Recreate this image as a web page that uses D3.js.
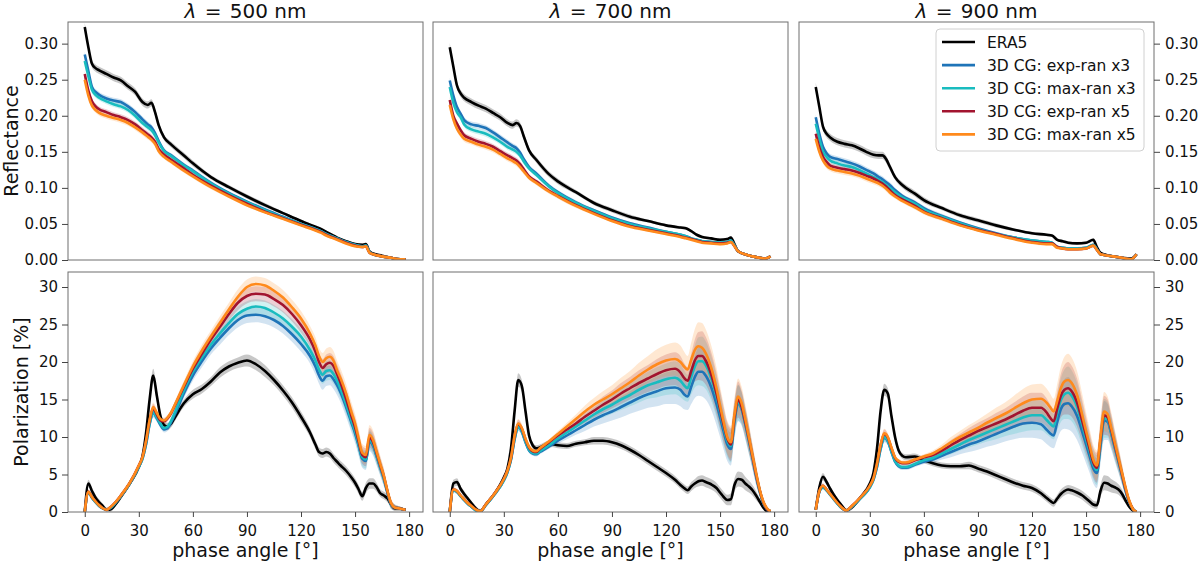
<!DOCTYPE html>
<html>
<head>
<meta charset="utf-8">
<script src="https://cdn.jsdelivr.net/npm/d3@7"></script>
<style>
body { margin: 0; background: #fff; }
text { font-family: "DejaVu Sans", sans-serif; fill: #111; }
</style>
</head>
<body>
<div id="chart"></div>
<script>
// phase angle grids (degrees)
var angleRefl = [0, 2, 4, 6, 8, 12, 16, 20,
    24, 28, 32, 35, 37, 39, 41, 44,
    48, 55, 60, 70, 80, 90, 100, 110,
    120, 128, 131, 134, 137, 140, 145, 150,
    154, 156, 158, 160, 165, 170, 175, 178];

var anglePol = [0, 2, 4, 6, 8, 10, 12, 14,
    17, 20, 25, 30, 32, 34, 36, 38,
    40, 42, 44, 46, 48, 50, 55, 60,
    65, 70, 75, 80, 85, 90, 95, 100,
    105, 110, 115, 120, 125, 128, 130, 132,
    134, 136, 138, 140, 142, 145, 148, 150,
    152, 154, 156, 158, 160, 162, 164, 166,
    168, 170, 172, 174, 176, 178];

var seriesNames = ["ERA5", "3D CG: exp-ran x3", "3D CG: max-ran x3", "3D CG: exp-ran x5", "3D CG: max-ran x5"];
var seriesColors = ["#000000", "#1f74b8", "#19bcbf", "#a2142f", "#ff8a1c"];
var wavelengths = [500, 700, 900];
var xTicks = [0, 30, 60, 90, 120, 150, 180];
var reflTicks = [0, 0.05, 0.10, 0.15, 0.20, 0.25, 0.30];
var polTicks = [0, 5, 10, 15, 20, 25, 30];

// ---- reflectance, 500 nm
var refl500Era5 = [0.323, 0.295, 0.272, 0.266, 0.263, 0.258, 0.253, 0.249,
    0.241, 0.233, 0.219, 0.215, 0.218, 0.205, 0.187, 0.170,
    0.160, 0.145, 0.134, 0.115, 0.101, 0.088, 0.076, 0.065,
    0.054, 0.046, 0.043, 0.039, 0.035, 0.031, 0.026, 0.022,
    0.021, 0.022, 0.012, 0.009, 0.006, 0.003, 0.001, 0.001];
var refl500Exp3 = [0.285, 0.262, 0.240, 0.233, 0.229, 0.224, 0.221, 0.219,
    0.213, 0.205, 0.195, 0.188, 0.184, 0.176, 0.165, 0.152,
    0.145, 0.132, 0.124, 0.107, 0.093, 0.081, 0.070, 0.060,
    0.050, 0.043, 0.040, 0.036, 0.033, 0.030, 0.025, 0.021,
    0.019, 0.020, 0.011, 0.008, 0.005, 0.003, 0.001, 0.001];
var refl500Max3 = [0.276, 0.255, 0.236, 0.229, 0.225, 0.220, 0.216, 0.213,
    0.208, 0.200, 0.190, 0.184, 0.180, 0.173, 0.163, 0.151,
    0.144, 0.131, 0.123, 0.106, 0.092, 0.080, 0.069, 0.059,
    0.050, 0.043, 0.040, 0.036, 0.033, 0.030, 0.025, 0.021,
    0.019, 0.020, 0.011, 0.008, 0.005, 0.003, 0.001, 0.001];
var refl500Exp5 = [0.258, 0.235, 0.220, 0.213, 0.209, 0.205, 0.201, 0.198,
    0.194, 0.188, 0.180, 0.174, 0.170, 0.164, 0.154, 0.146,
    0.139, 0.127, 0.118, 0.103, 0.090, 0.078, 0.067, 0.058,
    0.049, 0.042, 0.039, 0.035, 0.032, 0.029, 0.024, 0.020,
    0.018, 0.019, 0.010, 0.008, 0.005, 0.003, 0.001, 0.001];
var refl500Max5 = [0.250, 0.228, 0.214, 0.208, 0.204, 0.200, 0.197, 0.194,
    0.190, 0.184, 0.177, 0.171, 0.167, 0.161, 0.151, 0.143,
    0.136, 0.124, 0.116, 0.101, 0.088, 0.076, 0.066, 0.057,
    0.048, 0.041, 0.038, 0.034, 0.031, 0.028, 0.023, 0.019,
    0.018, 0.019, 0.010, 0.008, 0.005, 0.003, 0.001, 0.001];

// ---- reflectance, 700 nm
var refl700Era5 = [0.295, 0.268, 0.242, 0.231, 0.225, 0.219, 0.214, 0.210,
    0.204, 0.198, 0.190, 0.187, 0.190, 0.186, 0.172, 0.152,
    0.139, 0.119, 0.109, 0.094, 0.079, 0.069, 0.060, 0.054,
    0.048, 0.045, 0.044, 0.040, 0.035, 0.032, 0.030, 0.028,
    0.029, 0.031, 0.022, 0.012, 0.007, 0.004, 0.002, 0.005];
var refl700Exp3 = [0.249, 0.228, 0.212, 0.203, 0.194, 0.188, 0.186, 0.183,
    0.177, 0.170, 0.163, 0.158, 0.155, 0.149, 0.140, 0.129,
    0.120, 0.103, 0.094, 0.080, 0.069, 0.059, 0.051, 0.045,
    0.039, 0.035, 0.033, 0.030, 0.028, 0.026, 0.025, 0.024,
    0.025, 0.027, 0.020, 0.012, 0.007, 0.004, 0.002, 0.005];
var refl700Max3 = [0.240, 0.218, 0.205, 0.198, 0.188, 0.181, 0.178, 0.175,
    0.170, 0.164, 0.157, 0.153, 0.150, 0.145, 0.137, 0.127,
    0.118, 0.102, 0.093, 0.079, 0.068, 0.058, 0.050, 0.044,
    0.039, 0.035, 0.033, 0.030, 0.028, 0.026, 0.025, 0.024,
    0.025, 0.027, 0.020, 0.012, 0.007, 0.004, 0.002, 0.005];
var refl700Exp5 = [0.222, 0.200, 0.189, 0.180, 0.173, 0.168, 0.164, 0.161,
    0.157, 0.151, 0.145, 0.141, 0.138, 0.133, 0.126, 0.116,
    0.109, 0.096, 0.089, 0.076, 0.065, 0.055, 0.047, 0.042,
    0.037, 0.033, 0.031, 0.029, 0.027, 0.025, 0.024, 0.023,
    0.024, 0.025, 0.019, 0.012, 0.007, 0.004, 0.002, 0.005];
var refl700Max5 = [0.215, 0.195, 0.182, 0.174, 0.168, 0.164, 0.160, 0.157,
    0.153, 0.147, 0.141, 0.137, 0.134, 0.129, 0.123, 0.114,
    0.107, 0.095, 0.088, 0.075, 0.064, 0.054, 0.046, 0.041,
    0.036, 0.032, 0.030, 0.028, 0.026, 0.024, 0.023, 0.022,
    0.023, 0.025, 0.019, 0.012, 0.007, 0.004, 0.002, 0.005];

// ---- reflectance, 900 nm
var refl900Era5 = [0.240, 0.212, 0.185, 0.175, 0.170, 0.164, 0.161, 0.159,
    0.155, 0.150, 0.146, 0.145, 0.145, 0.140, 0.130, 0.115,
    0.104, 0.092, 0.083, 0.072, 0.062, 0.055, 0.048, 0.042,
    0.037, 0.035, 0.034, 0.028, 0.026, 0.024, 0.023, 0.024,
    0.028, 0.018, 0.010, 0.008, 0.005, 0.003, 0.002, 0.008];
var refl900Exp3 = [0.198, 0.175, 0.157, 0.148, 0.143, 0.140, 0.137, 0.134,
    0.130, 0.125, 0.120, 0.115, 0.112, 0.108, 0.104, 0.097,
    0.089, 0.080, 0.072, 0.061, 0.052, 0.044, 0.037, 0.031,
    0.027, 0.025, 0.024, 0.018, 0.017, 0.016, 0.016, 0.017,
    0.021, 0.015, 0.008, 0.007, 0.005, 0.003, 0.001, 0.008];
var refl900Max3 = [0.189, 0.168, 0.150, 0.143, 0.138, 0.134, 0.131, 0.129,
    0.125, 0.120, 0.115, 0.111, 0.108, 0.104, 0.100, 0.094,
    0.087, 0.078, 0.070, 0.060, 0.051, 0.043, 0.036, 0.031,
    0.027, 0.025, 0.024, 0.018, 0.017, 0.016, 0.016, 0.017,
    0.021, 0.015, 0.008, 0.007, 0.005, 0.003, 0.001, 0.008];
var refl900Exp5 = [0.175, 0.156, 0.143, 0.136, 0.131, 0.128, 0.126, 0.124,
    0.121, 0.117, 0.113, 0.109, 0.106, 0.102, 0.097, 0.090,
    0.084, 0.075, 0.067, 0.058, 0.049, 0.042, 0.036, 0.030,
    0.025, 0.023, 0.023, 0.018, 0.016, 0.015, 0.015, 0.016,
    0.020, 0.014, 0.008, 0.007, 0.005, 0.003, 0.001, 0.008];
var refl900Max5 = [0.168, 0.150, 0.138, 0.131, 0.127, 0.124, 0.122, 0.120,
    0.117, 0.113, 0.109, 0.106, 0.103, 0.099, 0.094, 0.088,
    0.082, 0.073, 0.066, 0.057, 0.048, 0.041, 0.035, 0.029,
    0.024, 0.022, 0.022, 0.017, 0.016, 0.015, 0.015, 0.016,
    0.020, 0.014, 0.008, 0.007, 0.005, 0.003, 0.001, 0.008];

// reflectance spread (half width of shaded band)
var reflSpreadEra5 = [0.006, 0.005, 0.005, 0.005, 0.005, 0.005, 0.005, 0.005,
    0.005, 0.005, 0.005, 0.005, 0.005, 0.005, 0.005, 0.004,
    0.004, 0.004, 0.004, 0.003, 0.003, 0.003, 0.003, 0.002,
    0.002, 0.002, 0.002, 0.002, 0.002, 0.002, 0.002, 0.002,
    0.002, 0.002, 0.002, 0.001, 0.001, 0.001, 0.001, 0.001];
var reflSpreadCG = [0.004, 0.004, 0.004, 0.004, 0.004, 0.004, 0.004, 0.004,
    0.004, 0.004, 0.004, 0.004, 0.004, 0.004, 0.004, 0.003,
    0.003, 0.003, 0.003, 0.003, 0.002, 0.002, 0.002, 0.002,
    0.002, 0.002, 0.002, 0.002, 0.002, 0.002, 0.002, 0.002,
    0.002, 0.002, 0.001, 0.001, 0.001, 0.001, 0.001, 0.001];

// ---- polarization [%], 500 nm
var pol500Era5 = [0.0, 3.8, 2.8, 1.9, 1.3, 0.8, 0.3, 0.3,
    1.0, 2.0, 3.8, 6.0, 7.4, 10.5, 15.0, 18.2,
    15.5, 12.8, 11.6, 11.4, 11.8, 12.6, 14.5, 15.7,
    16.4, 17.4, 18.6, 19.4, 19.9, 20.2, 19.7, 18.8,
    17.6, 16.2, 14.6, 12.7, 10.6, 9.0, 8.0, 7.8,
    8.0, 7.8, 7.2, 6.7, 6.2, 5.5, 4.6, 3.9,
    3.0, 2.1, 3.2, 3.8, 3.8, 3.3, 2.5, 2.2,
    1.8, 1.0, 0.5, 0.5, 0.4, 0.3];
var pol500Exp3 = [0.0, 2.6, 1.9, 1.3, 0.8, 0.5, 0.3, 0.5,
    1.2, 2.1, 3.8, 6.0, 7.1, 9.0, 11.7, 13.2,
    12.5, 11.6, 11.0, 11.2, 12.0, 13.0, 15.8, 18.2,
    20.1, 21.8, 23.2, 24.5, 25.6, 26.2, 26.3, 26.1,
    25.6, 24.8, 23.7, 22.4, 20.8, 19.4, 18.2, 17.5,
    18.1, 18.2, 17.7, 16.9, 15.9, 14.0, 11.9, 10.5,
    8.8, 7.1, 6.8, 9.4, 8.8, 7.4, 5.9, 4.4,
    2.6, 1.0, 0.6, 0.5, 0.4, 0.3];
var pol500Max3 = [0.0, 2.6, 1.9, 1.3, 0.8, 0.5, 0.3, 0.5,
    1.2, 2.1, 3.8, 6.0, 7.1, 9.1, 11.8, 13.3,
    12.6, 11.8, 11.2, 11.4, 12.2, 13.3, 16.2, 18.7,
    20.6, 22.3, 23.8, 25.2, 26.4, 27.1, 27.4, 27.2,
    26.6, 25.8, 24.7, 23.4, 21.6, 20.2, 19.0, 18.3,
    18.8, 18.9, 18.4, 17.5, 16.4, 14.4, 12.2, 10.8,
    9.0, 7.3, 7.0, 9.6, 9.0, 7.5, 6.0, 4.5,
    2.6, 1.0, 0.6, 0.5, 0.4, 0.3];
var pol500Exp5 = [0.0, 2.7, 2.0, 1.4, 0.9, 0.5, 0.3, 0.6,
    1.3, 2.2, 3.9, 6.2, 7.3, 9.4, 12.2, 13.8,
    13.0, 12.2, 12.1, 12.5, 13.2, 14.2, 16.7, 19.1,
    21.1, 23.0, 24.7, 26.4, 27.9, 28.8, 29.1, 29.0,
    28.4, 27.6, 26.4, 24.9, 23.0, 21.4, 20.0, 19.2,
    19.7, 19.9, 19.5, 18.4, 17.2, 15.1, 12.8, 11.3,
    9.4, 7.6, 7.3, 9.9, 9.3, 7.8, 6.2, 4.7,
    2.7, 1.1, 0.6, 0.5, 0.4, 0.3];
var pol500Max5 = [0.0, 2.7, 2.0, 1.4, 0.9, 0.5, 0.3, 0.6,
    1.3, 2.2, 3.9, 6.2, 7.3, 9.5, 12.3, 14.0,
    13.2, 12.4, 12.2, 12.6, 13.3, 14.3, 16.9, 19.4,
    21.5, 23.4, 25.2, 27.0, 28.7, 30.0, 30.4, 30.2,
    29.5, 28.6, 27.3, 25.8, 23.8, 22.2, 20.8, 20.0,
    20.5, 20.7, 20.2, 18.9, 17.8, 15.8, 13.3, 11.8,
    9.8, 7.9, 7.6, 10.3, 9.6, 8.0, 6.4, 4.8,
    2.8, 1.2, 0.6, 0.5, 0.4, 0.3];

// ---- polarization [%], 700 nm
var pol700Era5 = [0.0, 3.8, 4.0, 3.1, 2.4, 1.8, 1.2, 0.6,
    0.1, 1.0, 2.5, 4.6, 5.8, 8.5, 13.5, 17.6,
    16.8, 13.5, 10.2, 8.9, 8.5, 8.6, 9.1, 8.9,
    8.8, 9.1, 9.3, 9.5, 9.5, 9.3, 8.9, 8.3,
    7.6, 6.8, 6.0, 5.2, 4.3, 3.6, 3.2, 2.9,
    3.4, 3.8, 4.1, 4.2, 4.0, 3.7, 3.2, 2.6,
    2.0, 1.6, 1.7, 3.6, 4.4, 4.3, 3.8, 3.4,
    2.9, 2.2, 1.4, 0.6, 0.1, 0.0];
var pol700Exp3 = [0.0, 2.9, 2.7, 2.1, 1.6, 1.1, 0.7, 0.3,
    0.1, 0.9, 2.4, 4.2, 5.3, 7.0, 9.7, 11.4,
    10.7, 9.3, 8.2, 7.8, 7.7, 8.0, 8.7, 9.5,
    10.2, 10.9, 11.6, 12.3, 12.9, 13.4, 14.0, 14.6,
    15.2, 15.7, 16.1, 16.5, 16.6, 16.3, 15.7, 15.4,
    16.7, 18.0, 18.7, 18.7, 18.2, 16.7, 14.4, 12.6,
    10.7, 9.0, 8.4, 12.1, 14.5, 13.7, 11.7, 9.5,
    7.2, 4.8, 2.8, 1.2, 0.4, 0.1];
var pol700Max3 = [0.0, 2.9, 2.7, 2.1, 1.6, 1.1, 0.7, 0.3,
    0.1, 0.9, 2.4, 4.2, 5.3, 7.0, 9.8, 11.4,
    10.8, 9.4, 8.3, 7.9, 7.8, 8.1, 8.9, 9.8,
    10.6, 11.4, 12.2, 13.0, 13.7, 14.3, 15.0, 15.6,
    16.3, 16.9, 17.3, 17.7, 17.9, 17.5, 16.9, 16.5,
    18.0, 19.4, 20.1, 20.1, 19.6, 17.9, 15.4, 13.4,
    11.3, 9.5, 8.8, 12.3, 14.6, 13.8, 11.8, 9.6,
    7.3, 4.9, 2.8, 1.2, 0.4, 0.1];
var pol700Exp5 = [0.0, 3.0, 2.8, 2.2, 1.7, 1.2, 0.8, 0.4,
    0.1, 1.0, 2.5, 4.4, 5.5, 7.2, 10.1, 11.7,
    11.1, 9.7, 8.6, 8.1, 8.0, 8.4, 9.3, 10.2,
    11.0, 11.8, 12.7, 13.5, 14.3, 15.0, 15.8, 16.5,
    17.2, 17.8, 18.4, 18.9, 19.1, 18.6, 17.9, 17.5,
    18.8, 20.2, 20.8, 20.8, 20.2, 18.4, 15.8, 13.7,
    11.6, 9.8, 9.0, 12.6, 15.0, 14.0, 12.0, 9.8,
    7.4, 5.0, 2.9, 1.3, 0.4, 0.1];
var pol700Max5 = [0.0, 3.0, 2.8, 2.2, 1.7, 1.2, 0.8, 0.4,
    0.1, 1.0, 2.5, 4.4, 5.5, 7.3, 10.2, 11.8,
    11.2, 9.8, 8.7, 8.2, 8.1, 8.5, 9.4, 10.4,
    11.4, 12.4, 13.4, 14.3, 15.0, 15.7, 16.5, 17.3,
    18.2, 19.0, 19.7, 20.2, 20.4, 20.0, 19.4, 19.0,
    20.3, 21.6, 22.1, 21.9, 21.2, 19.3, 16.5, 14.2,
    12.0, 10.0, 9.3, 13.0, 15.4, 14.5, 12.4, 10.0,
    7.6, 5.2, 3.0, 1.4, 0.5, 0.1];

// ---- polarization [%], 900 nm
var pol900Era5 = [0.3, 3.3, 4.7, 4.0, 3.1, 2.3, 1.6, 1.0,
    0.2, 0.6, 2.0, 3.8, 5.2, 8.5, 13.5, 16.3,
    15.8, 12.8, 10.0, 8.2, 7.5, 7.3, 7.4, 6.9,
    6.5, 6.2, 6.1, 6.1, 6.2, 5.8, 5.4, 4.9,
    4.4, 3.9, 3.5, 3.2, 2.5, 1.9, 1.5, 1.2,
    1.8, 2.4, 2.8, 3.0, 2.9, 2.6, 2.2, 1.8,
    1.4, 1.0, 0.9, 2.8, 3.9, 3.8, 3.5, 3.3,
    3.0, 2.4, 1.5, 0.7, 0.2, 0.0];
var pol900Exp3 = [0.3, 2.7, 3.3, 2.9, 2.3, 1.7, 1.1, 0.6,
    0.2, 0.7, 1.9, 3.3, 4.3, 6.0, 8.4, 9.9,
    9.4, 8.0, 6.7, 6.1, 5.9, 5.9, 6.3, 6.7,
    7.0, 7.5, 8.0, 8.5, 9.0, 9.4, 9.9, 10.4,
    10.9, 11.4, 11.8, 11.9, 11.7, 11.0, 10.5, 10.2,
    12.0, 13.7, 14.4, 14.5, 14.1, 12.8, 10.6, 9.0,
    7.4, 5.8, 5.2, 8.8, 12.2, 12.0, 10.4, 8.5,
    6.7, 4.8, 2.8, 1.3, 0.4, 0.0];
var pol900Max3 = [0.3, 2.7, 3.3, 2.9, 2.3, 1.7, 1.1, 0.6,
    0.2, 0.7, 1.9, 3.3, 4.3, 6.1, 8.5, 10.0,
    9.5, 8.1, 6.8, 6.2, 6.0, 6.0, 6.4, 6.9,
    7.2, 7.8, 8.4, 9.0, 9.6, 10.1, 10.6, 11.1,
    11.6, 12.1, 12.6, 12.9, 12.9, 12.3, 11.8, 11.4,
    13.2, 14.9, 15.7, 15.9, 15.5, 14.0, 11.5, 9.7,
    8.0, 6.3, 5.6, 9.2, 12.5, 12.3, 10.6, 8.7,
    6.8, 4.9, 2.9, 1.3, 0.4, 0.0];
var pol900Exp5 = [0.3, 2.8, 3.5, 3.0, 2.4, 1.8, 1.2, 0.7,
    0.2, 0.8, 2.0, 3.5, 4.5, 6.4, 8.9, 10.4,
    9.9, 8.5, 7.2, 6.7, 6.5, 6.5, 6.9, 7.3,
    7.6, 8.2, 8.9, 9.6, 10.2, 10.8, 11.3, 11.8,
    12.3, 12.9, 13.5, 13.9, 13.9, 13.3, 12.6, 12.1,
    13.8, 15.5, 16.3, 16.5, 16.1, 14.6, 12.0, 10.2,
    8.4, 6.6, 5.9, 9.6, 12.9, 12.6, 10.9, 8.9,
    7.0, 5.0, 3.0, 1.4, 0.4, 0.0];
var pol900Max5 = [0.3, 2.8, 3.5, 3.0, 2.4, 1.8, 1.2, 0.7,
    0.2, 0.8, 2.0, 3.5, 4.5, 6.5, 9.0, 10.5,
    10.0, 8.6, 7.3, 6.8, 6.6, 6.6, 7.0, 7.4,
    7.8, 8.5, 9.3, 10.0, 10.6, 11.2, 11.9, 12.5,
    13.1, 13.8, 14.5, 15.0, 15.1, 14.6, 14.0, 13.4,
    14.8, 16.5, 17.4, 17.6, 17.2, 15.6, 12.8, 10.8,
    8.9, 7.0, 6.2, 10.0, 13.4, 13.0, 11.2, 9.2,
    7.2, 5.2, 3.2, 1.5, 0.4, 0.0];

// polarization spread (half width of shaded band)
var pol500SpreadEra5 = [0.2, 0.5, 0.5, 0.4, 0.4, 0.3, 0.3, 0.3,
    0.3, 0.3, 0.3, 0.4, 0.4, 0.6, 0.8, 0.9,
    0.8, 0.6, 0.5, 0.5, 0.5, 0.5, 0.5, 0.6,
    0.6, 0.6, 0.7, 0.7, 0.7, 0.8, 0.8, 0.8,
    0.7, 0.7, 0.7, 0.7, 0.6, 0.6, 0.6, 0.6,
    0.6, 0.6, 0.6, 0.6, 0.6, 0.6, 0.6, 0.6,
    0.6, 0.6, 0.7, 0.7, 0.7, 0.6, 0.5, 0.5,
    0.5, 0.4, 0.3, 0.3, 0.2, 0.2];
var pol500SpreadCG = [0.1, 0.3, 0.3, 0.2, 0.2, 0.2, 0.2, 0.2,
    0.2, 0.2, 0.3, 0.3, 0.3, 0.4, 0.5, 0.6,
    0.5, 0.4, 0.4, 0.4, 0.4, 0.5, 0.6, 0.7,
    0.8, 0.8, 0.9, 0.9, 1.0, 1.0, 1.0, 1.0,
    1.0, 1.0, 1.0, 1.0, 1.0, 1.1, 1.1, 1.2,
    1.3, 1.3, 1.3, 1.3, 1.3, 1.3, 1.3, 1.3,
    1.3, 1.2, 1.2, 1.3, 1.3, 1.2, 1.1, 1.0,
    0.8, 0.6, 0.4, 0.3, 0.2, 0.2];
var pol700SpreadEra5 = [0.2, 0.5, 0.5, 0.4, 0.4, 0.3, 0.3, 0.3,
    0.3, 0.3, 0.3, 0.4, 0.4, 0.6, 0.8, 0.9,
    0.8, 0.6, 0.5, 0.4, 0.4, 0.4, 0.4, 0.4,
    0.4, 0.4, 0.4, 0.5, 0.5, 0.5, 0.5, 0.5,
    0.5, 0.5, 0.5, 0.5, 0.5, 0.5, 0.5, 0.5,
    0.6, 0.6, 0.7, 0.7, 0.7, 0.7, 0.7, 0.7,
    0.7, 0.7, 0.8, 0.9, 1.0, 1.0, 0.9, 0.8,
    0.7, 0.6, 0.4, 0.3, 0.2, 0.1];
var pol700SpreadCG = [0.1, 0.3, 0.3, 0.2, 0.2, 0.2, 0.2, 0.2,
    0.2, 0.2, 0.3, 0.3, 0.3, 0.4, 0.5, 0.6,
    0.5, 0.4, 0.3, 0.3, 0.3, 0.3, 0.3, 0.4,
    0.5, 0.6, 0.8, 0.9, 1.1, 1.2, 1.4, 1.5,
    1.7, 1.8, 2.0, 2.1, 2.2, 2.2, 2.0, 1.8,
    2.3, 2.8, 3.2, 3.3, 3.2, 3.0, 2.8, 2.6,
    2.4, 2.2, 2.2, 2.3, 2.4, 2.2, 2.0, 1.8,
    1.5, 1.2, 0.8, 0.5, 0.3, 0.1];
var pol900SpreadEra5 = [0.2, 0.5, 0.5, 0.4, 0.4, 0.3, 0.3, 0.3,
    0.3, 0.3, 0.3, 0.4, 0.4, 0.6, 0.7, 0.8,
    0.7, 0.6, 0.5, 0.4, 0.4, 0.4, 0.4, 0.4,
    0.4, 0.4, 0.4, 0.4, 0.5, 0.5, 0.5, 0.5,
    0.5, 0.5, 0.5, 0.5, 0.5, 0.5, 0.5, 0.5,
    0.5, 0.6, 0.6, 0.6, 0.6, 0.6, 0.6, 0.6,
    0.6, 0.5, 0.5, 0.8, 1.0, 1.0, 0.9, 0.8,
    0.7, 0.6, 0.4, 0.3, 0.2, 0.1];
var pol900SpreadCG = [0.1, 0.3, 0.3, 0.2, 0.2, 0.2, 0.2, 0.2,
    0.2, 0.2, 0.3, 0.3, 0.3, 0.4, 0.5, 0.6,
    0.5, 0.4, 0.3, 0.3, 0.3, 0.3, 0.3, 0.3,
    0.4, 0.5, 0.7, 0.8, 1.0, 1.1, 1.2, 1.4,
    1.5, 1.7, 1.9, 2.0, 2.0, 1.9, 1.8, 1.7,
    2.3, 2.9, 3.3, 3.5, 3.4, 3.2, 2.8, 2.5,
    2.2, 2.0, 2.0, 2.4, 2.6, 2.4, 2.1, 1.8,
    1.5, 1.2, 0.8, 0.5, 0.3, 0.1];

var reflData = [
    [refl500Era5, refl500Exp3, refl500Max3, refl500Exp5, refl500Max5],
    [refl700Era5, refl700Exp3, refl700Max3, refl700Exp5, refl700Max5],
    [refl900Era5, refl900Exp3, refl900Max3, refl900Exp5, refl900Max5]];
var polData = [
    [pol500Era5, pol500Exp3, pol500Max3, pol500Exp5, pol500Max5],
    [pol700Era5, pol700Exp3, pol700Max3, pol700Exp5, pol700Max5],
    [pol900Era5, pol900Exp3, pol900Max3, pol900Exp5, pol900Max5]];
var polSpreads = [
    [pol500SpreadEra5, pol500SpreadCG],
    [pol700SpreadEra5, pol700SpreadCG],
    [pol900SpreadEra5, pol900SpreadCG]];

// layout
var colX = [68, 433, 799];
var panelW = 355;
var rowY = [22, 272];
var rowH = [238, 240];

var svg = d3.select("#chart").append("svg")
    .attr("width", 1200)
    .attr("height", 562);

function style_axis(ax)
{
    ax.select(".domain").remove();
    ax.selectAll(".tick line").attr("stroke", "#444").attr("stroke-width", 1);
    ax.selectAll(".tick text")
        .style("font-family", "'DejaVu Sans', sans-serif")
        .style("font-size", "15px")
        .attr("fill", "#111");
}

function draw_panel(col, row)
{
    var h = rowH[row];
    var angles = row == 0 ? angleRefl : anglePol;
    var series = row == 0 ? reflData[col] : polData[col];
    var spreads = row == 0 ? [reflSpreadEra5, reflSpreadCG] : polSpreads[col];

    var xScale = d3.scaleLinear()
        .domain([-9.3, 187.7])
        .range([0, panelW]);

    var yScale = d3.scaleLinear()
        .domain(row == 0 ? [0, 0.33] : [0, 32])
        .range([h, 0]);

    var g = svg.append("g")
        .attr("transform", "translate(" + colX[col] + "," + rowY[row] + ")");

    var clipId = "clip" + col + "_" + row;
    g.append("clipPath").attr("id", clipId)
        .append("rect").attr("width", panelW).attr("height", h);

    var plot = g.append("g").attr("clip-path", "url(#" + clipId + ")");

    // shaded bands first
    series.forEach(function(vals, k) {
        var sp = k == 0 ? spreads[0] : spreads[1];
        var area = d3.area()
            .x(function(d, i) { return xScale(angles[i]); })
            .y0(function(d, i) { return yScale(d - sp[i]); })
            .y1(function(d, i) { return yScale(d + sp[i]); })
            .curve(d3.curveMonotoneX);
        plot.append("path")
            .datum(vals)
            .attr("d", area)
            .attr("fill", k == 0 ? "#000" : seriesColors[k])
            .attr("fill-opacity", k == 0 ? 0.22 : 0.2);
    });

    // then the mean lines
    var line = d3.line()
        .x(function(d, i) { return xScale(angles[i]); })
        .y(function(d) { return yScale(d); })
        .curve(d3.curveMonotoneX);

    series.forEach(function(vals, k) {
        plot.append("path")
            .datum(vals)
            .attr("d", line)
            .attr("fill", "none")
            .attr("stroke", seriesColors[k])
            .attr("stroke-width", 2.6)
            .attr("stroke-linejoin", "round");
    });

    // frame
    g.append("rect")
        .attr("width", panelW).attr("height", h)
        .attr("fill", "none")
        .attr("stroke", "#6e6e6e")
        .attr("stroke-width", 1);

    var ticks = row == 0 ? reflTicks : polTicks;
    var fmt = row == 0 ? d3.format(".2f") : d3.format("d");

    if (col == 0) {
        var axl = g.append("g")
            .call(d3.axisLeft(yScale).tickValues(ticks).tickFormat(fmt).tickSize(6).tickPadding(4));
        style_axis(axl);
    }
    if (col == 2) {
        var axr = g.append("g")
            .attr("transform", "translate(" + panelW + ",0)")
            .call(d3.axisRight(yScale).tickValues(ticks).tickFormat(fmt).tickSize(6).tickPadding(5));
        style_axis(axr);
    }
    if (row == 1) {
        var axb = g.append("g")
            .attr("transform", "translate(0," + h + ")")
            .call(d3.axisBottom(xScale).tickValues(xTicks).tickFormat(d3.format("d")).tickSize(5).tickPadding(8));
        style_axis(axb);

        g.append("text")
            .attr("x", panelW / 2)
            .attr("y", 285)
            .attr("text-anchor", "middle")
            .style("font-size", "19px")
            .text("phase angle [°]");
    }
    if (row == 0) {
        var title = g.append("text")
            .attr("x", panelW / 2)
            .attr("y", -4.5)
            .attr("text-anchor", "middle")
            .style("font-size", "20px");
        title.append("tspan").style("font-style", "italic").text("λ");
        title.append("tspan").attr("dx", 2).text(" = ");
        title.append("tspan").attr("dx", 2).text(wavelengths[col] + " nm");
    }

    if (col == 2 && row == 0) {
        draw_legend(g);
    }
}

function draw_legend(g)
{
    var lg = g.append("g").attr("transform", "translate(137,7)");
    lg.append("rect")
        .attr("width", 208).attr("height", 122)
        .attr("rx", 4).attr("ry", 4)
        .attr("fill", "#fff").attr("fill-opacity", 0.85)
        .attr("stroke", "#d0d0d0");
    seriesNames.forEach(function(name, k) {
        var yy = 13 + k * 23.1;
        lg.append("line")
            .attr("x1", 6).attr("x2", 39)
            .attr("y1", yy).attr("y2", yy)
            .attr("stroke", seriesColors[k])
            .attr("stroke-width", 2.6);
        lg.append("text")
            .attr("x", 51).attr("y", yy + 5.5)
            .style("font-size", "15.5px")
            .text(name);
    });
}

for (var r = 0; r < 2; r++) {
    for (var c = 0; c < 3; c++) {
        draw_panel(c, r);
    }
}

// y axis labels
svg.append("text")
    .attr("transform", "translate(18," + (rowY[0] + rowH[0] / 2) + ") rotate(-90)")
    .attr("text-anchor", "middle")
    .style("font-size", "19px")
    .text("Reflectance");

svg.append("text")
    .attr("transform", "translate(28," + (rowY[1] + rowH[1] / 2) + ") rotate(-90)")
    .attr("text-anchor", "middle")
    .style("font-size", "19px")
    .text("Polarization [%]");
</script>
</body>
</html>
